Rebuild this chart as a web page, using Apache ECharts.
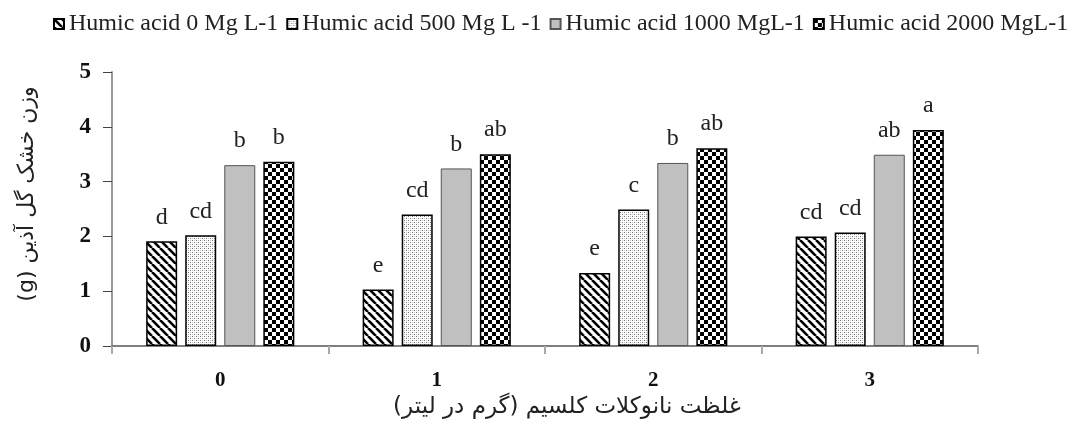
<!DOCTYPE html>
<html>
<head>
<meta charset="utf-8">
<script src="https://cdn.jsdelivr.net/npm/echarts@6/dist/echarts.min.js"></script>
<style>
html,body{margin:0;padding:0;background:#fff;}
#chart{width:1079px;height:430px;}
</style>
</head>
<body>
<div id="chart"></div>
<script>
// ---- data ----
var categories = ['0', '1', '2', '3'];
var seriesNames = ['Humic acid 0 Mg L-1', 'Humic acid 500 Mg L -1', 'Humic acid 1000 MgL-1', 'Humic acid 2000 MgL-1'];
var ha0 = [1.91, 1.03, 1.33, 2.00];
var ha500 = [2.02, 2.40, 2.49, 2.07];
var ha1000 = [3.30, 3.24, 3.34, 3.49];
var ha2000 = [3.36, 3.50, 3.61, 3.94];
var letters0 = ['d', 'e', 'e', 'cd'];
var letters500 = ['cd', 'cd', 'c', 'cd'];
var letters1000 = ['b', 'b', 'b', 'ab'];
var letters2000 = ['b', 'ab', 'ab', 'a'];
var yMin = 0, yMax = 5, yStep = 1;
var xName = 'غلظت نانوکلات کلسیم (گرم در لیتر)';
var yName = '(g) وزن خشک گل آذین';

// ---- patterns ----
function tile(w, h, draw) {
  var c = document.createElement('canvas');
  c.width = w; c.height = h;
  var g = c.getContext('2d');
  g.fillStyle = '#fff'; g.fillRect(0, 0, w, h);
  draw(g, w, h);
  return c;
}
var stripes = tile(8, 8, function (g, w, h) {
  g.strokeStyle = '#000'; g.lineWidth = 2.6;
  [-8, 0, 8].forEach(function (o) {
    g.beginPath(); g.moveTo(o, 0); g.lineTo(o + 8, 8); g.stroke();
  });
});
var dots = tile(4, 4, function (g) {
  g.fillStyle = '#777';
  g.fillRect(0, 0, 1, 1);
  g.fillRect(2, 2, 1, 1);
  g.fillStyle = '#c4c4c4';
  g.fillRect(2, 0, 1, 1);
  g.fillRect(0, 2, 1, 1);
});
var checks = tile(8, 8, function (g) {
  g.fillStyle = '#000';
  g.fillRect(0, 0, 4, 4);
  g.fillRect(4, 4, 4, 4);
});

var serif = '"Times New Roman", "Liberation Serif", serif';
var arabicFont = '"DejaVu Sans", "Noto Sans", sans-serif';

function mkSeries(name, data, letters, fill, border, bw) {
  return {
    name: name,
    type: 'bar',
    data: data,
    barWidth: 31,
    barGap: '26%',
    itemStyle: { color: fill, borderColor: border, borderWidth: bw },
    label: {
      show: true,
      position: 'top',
      distance: 12,
      fontFamily: serif,
      fontSize: 24,
      color: '#222',
      formatter: function (p) { return letters[p.dataIndex]; }
    }
  };
}

var chart = echarts.init(document.getElementById('chart'));
chart.setOption({
  animation: false,
  backgroundColor: '#fff',
  legend: {
    left: 53,
    top: 12,
    width: 1026,
    padding: 0,
    itemWidth: 10,
    itemHeight: 10,
    itemGap: 8,
    icon: 'rect',
    textStyle: { fontFamily: serif, fontSize: 24, color: '#222' },
    data: seriesNames
  },
  grid: { left: 112, right: 101, top: 72, bottom: 84 },
  xAxis: {
    type: 'category',
    data: categories,
    name: xName,
    nameLocation: 'middle',
    nameGap: 42,
    nameTextStyle: { fontFamily: arabicFont, fontSize: 23, color: '#222', padding: [0, 0, 0, 44] },
    axisLine: { lineStyle: { color: '#555', width: 1.5 } },
    axisTick: { show: true, length: 8, lineStyle: { color: '#aaa', width: 2 } },
    axisLabel: { margin: 24, fontFamily: serif, fontSize: 21, fontWeight: 'bold', color: '#111' }
  },
  yAxis: {
    type: 'value',
    min: yMin, max: yMax, interval: yStep,
    name: yName,
    nameLocation: 'middle',
    nameGap: 74,
    nameRotate: 90,
    nameTextStyle: { fontFamily: arabicFont, fontSize: 22, color: '#222', padding: [0, 0, 0, 30] },
    splitLine: { show: false },
    axisLine: { show: true, lineStyle: { color: '#9a9a9a', width: 2 } },
    axisTick: { show: true, length: 9, lineStyle: { color: '#444', width: 1 } },
    axisLabel: { margin: 21, fontFamily: serif, fontSize: 23, fontWeight: 'bold', color: '#111' }
  },
  series: [
    mkSeries(seriesNames[0], ha0, letters0, { image: stripes, repeat: 'repeat' }, '#000', 1.5),
    mkSeries(seriesNames[1], ha500, letters500, { image: dots, repeat: 'repeat' }, '#000', 1.5),
    mkSeries(seriesNames[2], ha1000, letters1000, '#c0c0c0', '#555', 1),
    mkSeries(seriesNames[3], ha2000, letters2000, { image: checks, repeat: 'repeat' }, '#000', 1.5)
  ]
});
</script>
</body>
</html>
